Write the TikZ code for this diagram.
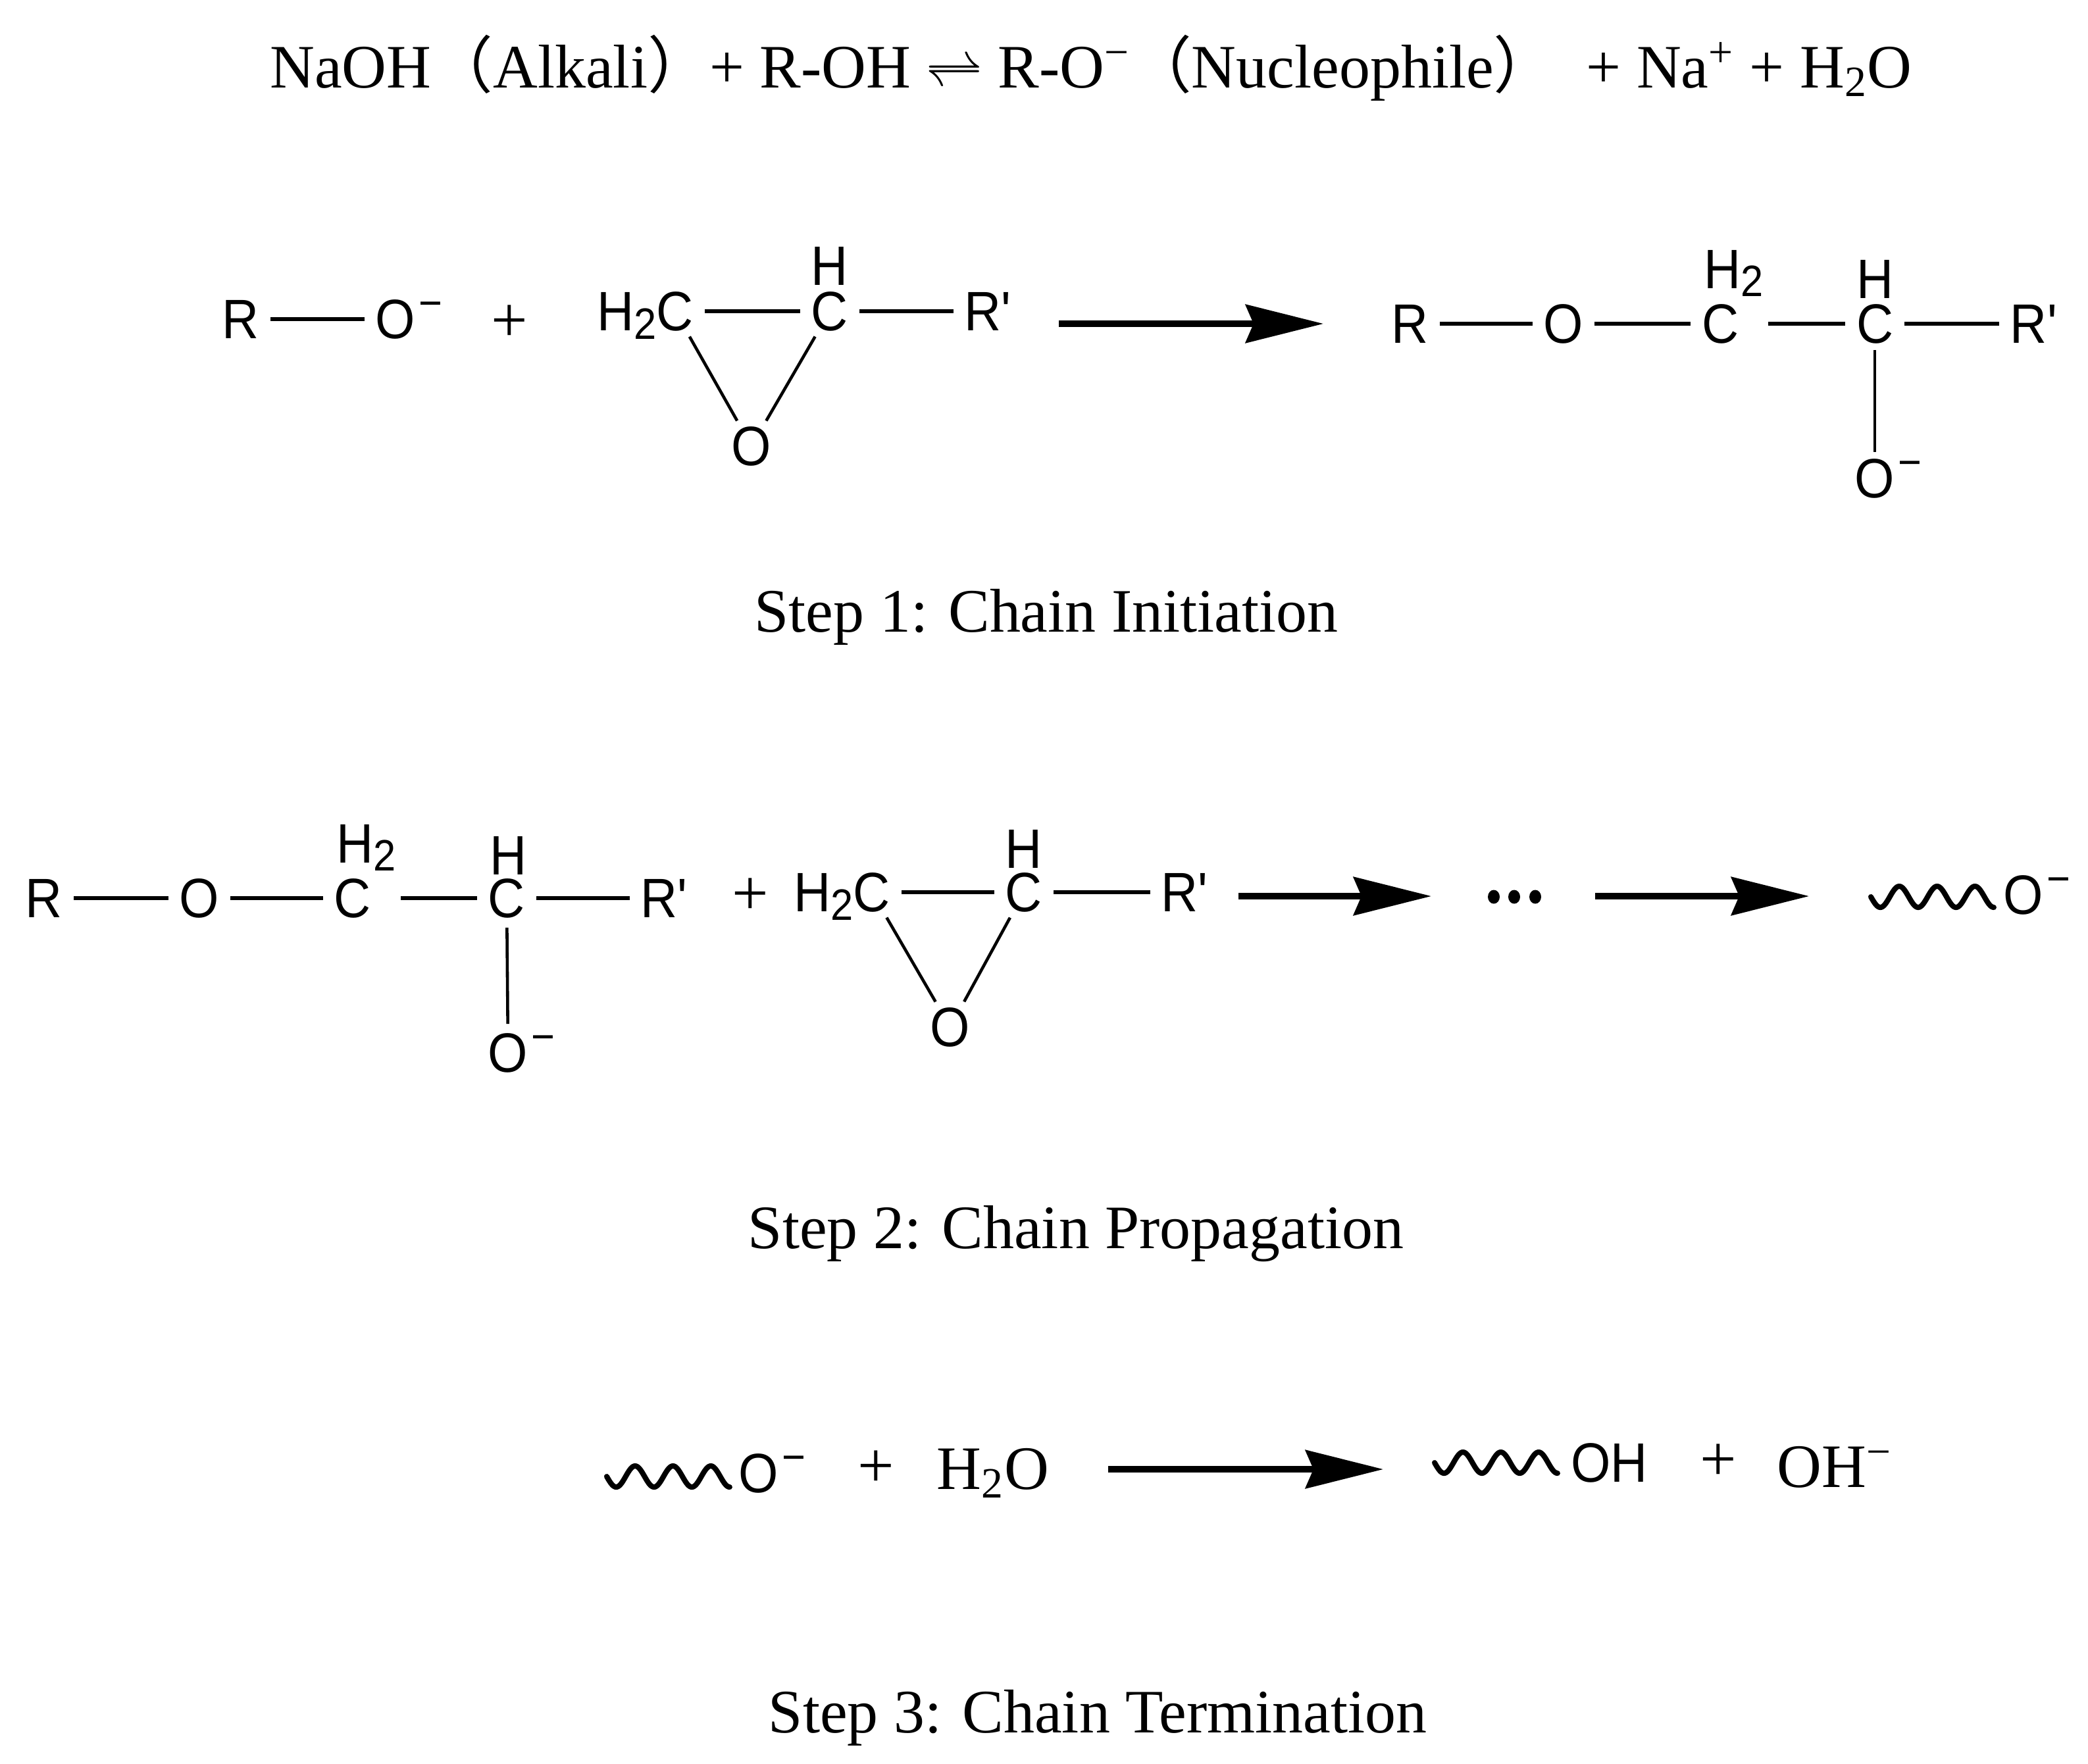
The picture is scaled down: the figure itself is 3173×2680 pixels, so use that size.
\documentclass[tikz,border=0pt]{standalone}
\usepackage{fontspec}
\setmainfont{Liberation Serif}
\newfontfamily\chemfont[FakeStretch=0.92]{Liberation Sans}
\newfontfamily\cjkfont{Noto Sans CJK SC}
\usetikzlibrary{arrows.meta}
\newcommand{\chsub}[1]{\raisebox{-3.5pt}{\fontsize{19}{20}\selectfont #1}}
\newcommand{\chneg}{\rlap{\hspace{1.5pt}\raisebox{9pt}{\fontsize{19}{19}\selectfont −}}}
\tikzset{
  atom/.style={font=\chemfont\fontsize{24}{28}\selectfont, inner sep=0pt, outer sep=0pt, text height=17pt, text depth=0pt},
  hlab/.style={font=\chemfont\fontsize{24}{28}\selectfont, inner sep=0pt, outer sep=0pt, anchor=base},
  bond/.style={line width=1.8pt, shorten <=0.17cm, shorten >=0.17cm},
  bondw/.style={bond, shorten <=0.45cm},
  ring/.style={line width=1.3pt, shorten <=0.1cm, shorten >=0.1cm},
  rxn/.style={line width=2.6pt, -{Stealth[length=1.18cm, width=0.58cm, inset=0.12cm]}},
  serif/.style={font=\fontsize{26.7}{32}\selectfont, inner sep=0pt, outer sep=0pt},
  plus/.style={font=\fontsize{28}{30}\selectfont, inner sep=0pt, outer sep=0pt},
  wave/.style={line width=2.3pt, line join=round, line cap=round},
}
\begin{document}
\begin{tikzpicture}[x=0.01cm,y=-0.01cm]
\useasboundingbox (0,0) rectangle (3173,2680);
% top equation
\node[serif, anchor=base] (eq) at (1658,133) {NaOH{\cjkfont （}Alkali{\cjkfont ）}+ R-OH $\rightleftharpoons$ R-O\textsuperscript{−}{\cjkfont （}Nucleophile{\cjkfont ）}\ \ + Na\textsuperscript{+} + H\textsubscript{2}O};

% ===== Step 1 =====
\node[atom] (r1R) at (366,485) {R};
\node[atom] (r1O) at (601,485) {O\chneg};
\node[plus] (r1p) at (774,492) {+};
\node[atom] (r1C1) at (1026,473) {C};
\node[hlab, anchor=base east] (r1H2) at (r1C1.base west) {H\chsub{2}};
\node[atom] (r1C2) at (1261,473) {C};
\node[hlab] (r1H) at (1261,433) {H};
\node[atom] (r1Rp) at (1502,473) {R\textquotesingle};
\node[atom] (r1Oe) at (1142,678) {O};
\draw[bond] (r1R) -- (r1O);
\draw[bond] (r1C1) -- (r1C2);
\draw[bond] (r1C2) -- (r1Rp);
\draw[ring] (r1C1) -- (r1Oe);
\draw[ring] (r1C2) -- (r1Oe);
\coordinate (a1s) at (1609,492);
\coordinate (a1e) at (2011,492);
\draw[rxn] (a1s) -- (a1e);
\node[atom] (p1R) at (2143,492) {R};
\node[atom] (p1O) at (2376,492) {O};
\node[atom] (p1C1) at (2614,492) {C};
\node[hlab, anchor=base west] (p1H2) at (2589,438) {H\chsub{2}};
\node[atom] (p1C2) at (2849,492) {C};
\node[hlab] (p1H) at (2849,453) {H};
\node[atom] (p1Rp) at (3091,492) {R\textquotesingle};
\node[atom] (p1O2) at (2849,727) {O\chneg};
\draw[bond] (p1R) -- (p1O);
\draw[bond] (p1O) -- (p1C1);
\draw[bondw] (p1C1) -- (p1C2);
\draw[bond] (p1C2) -- (p1Rp);
\draw[ring] (p1C2) -- (p1O2);
\node[serif, anchor=base] (s1) at (1590,960) {Step 1: Chain Initiation};

% ===== Step 2 =====
\node[atom] (r2R) at (67,1365) {R};
\node[atom] (r2O) at (303,1365) {O};
\node[atom] (r2C1) at (536,1365) {C};
\node[hlab, anchor=base west] (r2H2) at (511,1311) {H\chsub{2}};
\node[atom] (r2C2) at (770,1365) {C};
\node[hlab] (r2H) at (773,1329) {H};
\node[atom] (r2Rp) at (1010,1365) {R\textquotesingle};
\node[atom] (r2O2) at (772,1600) {O\chneg};
\draw[bond] (r2R) -- (r2O);
\draw[bond] (r2O) -- (r2C1);
\draw[bondw] (r2C1) -- (r2C2);
\draw[bond] (r2C2) -- (r2Rp);
\draw[ring, shorten <=0.15cm, shorten >=0.14cm] (r2C2) -- (r2O2);
\node[plus] (r2p) at (1140,1363) {+};
\node[atom] (r2C3) at (1325,1356) {C};
\node[hlab, anchor=base east] (r2H2b) at (r2C3.base west) {H\chsub{2}};
\node[atom] (r2C4) at (1556,1356) {C};
\node[hlab] (r2H4) at (1556,1319) {H};
\node[atom] (r2Rp2) at (1801,1356) {R\textquotesingle};
\node[atom] (r2Oe) at (1444,1561) {O};
\draw[bond] (r2C3) -- (r2C4);
\draw[bond] (r2C4) -- (r2Rp2);
\draw[ring] (r2C3) -- (r2Oe);
\draw[ring] (r2C4) -- (r2Oe);
\coordinate (a2s) at (1882,1362);
\coordinate (a2e) at (2175,1362);
\draw[rxn] (a2s) -- (a2e);
\fill (2270,1363) ellipse [x radius=0.09cm, y radius=0.105cm];
\fill (2301,1363) ellipse [x radius=0.09cm, y radius=0.105cm];
\fill (2333,1363) ellipse [x radius=0.09cm, y radius=0.105cm];
\coordinate (a3s) at (2424,1362);
\coordinate (a3e) at (2749,1362);
\draw[rxn] (a3s) -- (a3e);
\draw[wave] plot[domain=0:1170, samples=140, variable=\t] ({2843+\t/360*57.5},{1363+16*sin(\t)});
\node[atom] (r2Oend) at (3075,1360) {O\chneg};
\node[serif, anchor=base] (s2) at (1635,1897) {Step 2: Chain Propagation};

% ===== Step 3 =====
\draw[wave] plot[domain=0:1170, samples=140, variable=\t] ({922+\t/360*57.5},{2244+16*sin(\t)});
\node[atom] (r3O) at (1153,2239) {O\chneg};
\node[plus] (r3p) at (1331,2233) {+};
\node[serif, anchor=base] (r3w) at (1509,2263) {H\textsubscript{2}O};
\coordinate (a4s) at (1684,2233);
\coordinate (a4e) at (2102,2233);
\draw[rxn] (a4s) -- (a4e);
\draw[wave] plot[domain=0:1170, samples=140, variable=\t] ({2180+\t/360*57.5},{2223+16*sin(\t)});
\node[atom, anchor=base west] (r3OH) at (2387,2252) {OH};
\node[plus] (r3p2) at (2611,2223) {+};
\node[serif, anchor=base] (r3OHm) at (2788,2260) {OH\textsuperscript{−}};
\node[serif, anchor=base] (s3) at (1668,2633) {Step 3: Chain Termination};
\end{tikzpicture}
\end{document}
